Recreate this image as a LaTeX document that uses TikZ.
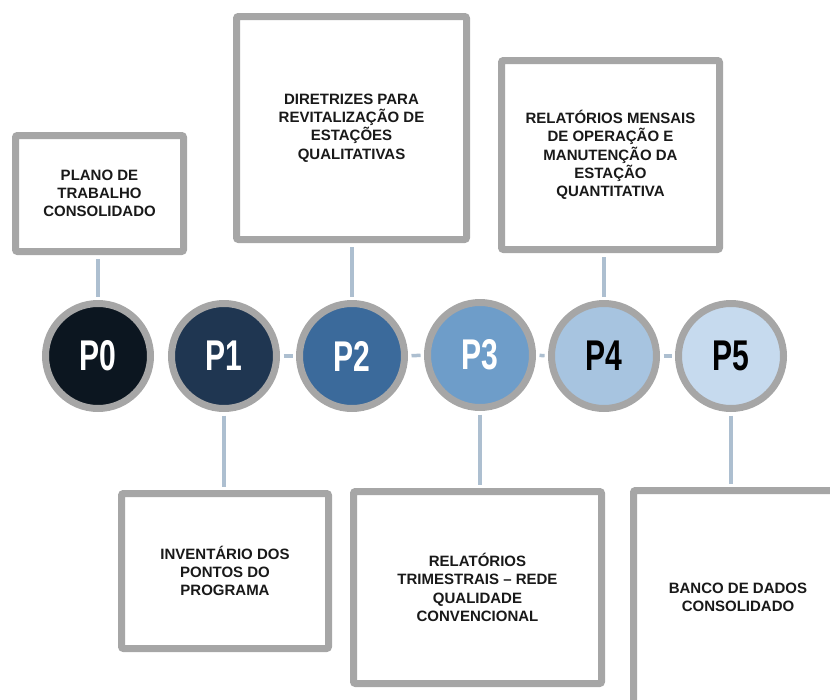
\documentclass[tikz,border=0pt]{standalone}
\usepackage{fontspec}
\setmainfont{Liberation Sans}
\usepackage{xcolor}
\usepackage{graphicx}

\definecolor{ringgray}{HTML}{A6A6A6}
\definecolor{linkblue}{HTML}{ADBFD0}
\definecolor{pzero}{HTML}{0C1620}
\definecolor{pone}{HTML}{1F3651}
\definecolor{ptwo}{HTML}{3B6A9B}
\definecolor{pthree}{HTML}{6E9DC9}
\definecolor{pfour}{HTML}{A7C4E0}
\definecolor{pfive}{HTML}{C6DAEE}

\newcommand{\plabel}[1]{\scalebox{0.7}[1]{#1}}

\begin{document}
\begin{tikzpicture}[x=1pt,y=-1pt,
	phase/.style={circle,draw=ringgray,line width=7pt,minimum size=105pt,inner sep=0pt,font=\fontsize{43}{43}\selectfont\bfseries},
	card/.style={draw=ringgray,fill=white,line width=7pt,rounded corners=2pt,align=center,inner sep=0pt,text=black!90,font=\fontsize{15}{18.3}\selectfont\bfseries},
	link/.style={draw=linkblue,line width=3.5pt,shorten <=3.5pt,shorten >=3.5pt}]
	\useasboundingbox (0,0) rectangle (830,699);
	\clip (0,0) rectangle (830,699);
	
	
	\node[phase,fill=pzero,text=white] (p0) at (98,356) {\plabel{P0}};
	\node[phase,fill=pone,text=white] (p1) at (224,356) {\plabel{P1}};
	\node[phase,fill=ptwo,text=white] (p2) at (352,356) {\plabel{P2}};
	\node[phase,fill=pthree,text=white] (p3) at (480,355) {\plabel{P3}};
	\node[phase,fill=pfour,text=black] (p4) at (604,356) {\plabel{P4}};
	\node[phase,fill=pfive,text=black] (p5) at (731,356) {\plabel{P5}};
	
	
	\node[card,minimum width=168pt,minimum height=116pt] (b0) at (99.5,193.5) {PLANO DE\\TRABALHO\\CONSOLIDADO};
	\node[card,minimum width=230pt,minimum height=223pt] (b2) at (351.5,128) {DIRETRIZES PARA\\REVITALIZAÇÃO DE\\ESTAÇÕES\\QUALITATIVAS};
	\node[card,minimum width=218pt,minimum height=189pt] (b4) at (610.5,155) {RELATÓRIOS MENSAIS\\DE OPERAÇÃO E\\MANUTENÇÃO DA\\ESTAÇÃO\\QUANTITATIVA};
	\node[card,minimum width=207pt,minimum height=155pt] (b1) at (225,571) {INVENTÁRIO DOS\\PONTOS DO\\PROGRAMA};
	\node[card,minimum width=248pt,minimum height=192pt] (b3) at (477.5,587.5) {RELATÓRIOS\\TRIMESTRAIS -- REDE\\QUALIDADE\\CONVENCIONAL};
	\node[card,minimum width=209pt,minimum height=213pt] (b5) at (738,597) {BANCO DE DADOS\\CONSOLIDADO};
	
	
	\draw[link] (p1) -- (p2);
	\draw[link] (p2) -- (p3);
	\draw[link] (p3) -- (p4);
	\draw[link] (p4) -- (p5);
	
	\draw[link] (p0.north) -- (p0.north |- b0.south);
	\draw[link] (p2.north) -- (p2.north |- b2.south);
	\draw[link] (p4.north) -- (p4.north |- b4.south);
	\draw[link] (p1.south) -- (p1.south |- b1.north);
	\draw[link] (p3.south) -- (p3.south |- b3.north);
	\draw[link] (p5.south) -- (p5.south |- b5.north);
	\end{tikzpicture}
\end{document}
